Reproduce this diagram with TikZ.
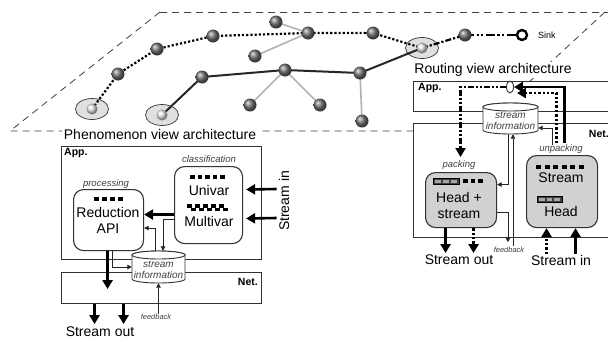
\documentclass[tikz,border=0pt]{standalone}
\usepackage{fontspec}
\setmainfont{Liberation Sans}
\usetikzlibrary{arrows.meta,shapes.geometric,calc}
\pgfdeclarelayer{bg}
\pgfsetlayers{bg,main}
\newcommand\dbcyl[5]{%
  \pgfmathsetmacro\cylcx{(#2+#4)/2}%
  \pgfmathsetmacro\cylrx{(#4-#2)/2}%
  \pgfmathsetmacro\cylcy{(#3+#5)/2}%
  \filldraw[cylst] (#2,#3+4) -- (#2,#5-4) arc[start angle=180,end angle=0,x radius=\cylrx,y radius=4] -- (#4,#3+4) arc[start angle=0,end angle=-180,x radius=\cylrx,y radius=4] -- cycle;
  \draw[cylst] (\cylcx,#3+4) ellipse[x radius=\cylrx,y radius=4];
  \node[inner sep=0pt, minimum width={(#4-#2)*1pt}, minimum height={(#5-#3)*1pt}] (#1) at (\cylcx,\cylcy) {};
  \node[cyltext] (#1txt) at (\cylcx,\cylcy+2.5) {stream\\information};
}
\begin{document}
\begin{tikzpicture}[x=1pt,y=-1pt,
 plane/.style={draw=black!75, line width=0.8pt, dash pattern=on 7pt off 5pt},
 sphere/.style={circle, inner sep=0pt, minimum size=13pt, ball color=black!55},
 lsphere/.style={circle, inner sep=0pt, minimum size=11pt, ball color=black!10},
 halo/.style={ellipse, fill=black!12, draw=black!80, line width=0.7pt, minimum width=33pt, minimum height=21pt, inner sep=0pt},
 sinkst/.style={circle, draw=black, line width=2.4pt, fill=white, minimum size=10pt, inner sep=0pt},
 dotroute/.style={line width=2.2pt, dash pattern=on 2.2pt off 2pt},
 mixroute/.style={line width=2.2pt, dash pattern=on 6pt off 2pt on 2.2pt off 2pt},
 solroute/.style={line width=2pt, black!85},
 greyroute/.style={line width=1.6pt, black!30},
 sinkroute/.style={line width=2.2pt, dash pattern=on 9pt off 2.5pt on 2.2pt off 2.5pt on 2.2pt off 2.5pt},
 frame/.style={draw=black!80, line width=1.1pt, fill=white, inner sep=0pt, anchor=north west},
 rbox/.style={frame, rounded corners=10pt},
 gbox/.style={rbox, fill=black!18},
 cylst/.style={draw=black!80, line width=0.9pt, fill=white},
 big/.style={font=\fontsize{14}{16}\selectfont, inner sep=0pt, align=center},
 title/.style={font=\fontsize{14}{16}\selectfont, inner sep=1.5pt, fill=white},
 tag/.style={font=\fontsize{9.5}{10}\selectfont\itshape, text=black!75, inner sep=0pt},
 boxtag/.style={font=\bfseries\fontsize{10.5}{11}\selectfont, inner sep=0pt},
 cyltext/.style={font=\fontsize{10}{11}\selectfont\itshape, text=black!75, align=center, inner sep=0pt},
 fb/.style={font=\fontsize{7.5}{8}\selectfont\itshape, text=black!75, inner sep=0pt},
 sinktxt/.style={font=\fontsize{9}{10}\selectfont, inner sep=0pt},
 fat/.style={line width=2.6pt, -{Triangle[length=9pt,width=10pt]}},
 fatdot/.style={fat, line width=2.4pt, dash pattern=on 2.4pt off 2pt},
 fatdd/.style={fat, line width=2.2pt, dash pattern=on 6pt off 2pt on 2pt off 2pt on 2pt off 2pt},
 thin/.style={line width=0.8pt, draw=black!85, -{Triangle[length=4.5pt,width=4.5pt]}},
]
\useasboundingbox (0,0) rectangle (608,341);

% plane
\begin{pgfonlayer}{bg}
\draw[plane] (160,12) -- (612,12);
\draw[plane] (605,12) -- (476,131);
\draw[plane] (160,12) -- (10,131) -- (476,131);
\node[halo] (h1) at (92,109) {};
\node[halo] (h2) at (162,115) {};
\node[halo] (h3) at (422,48) {};
\end{pgfonlayer}

% network nodes
\node[lsphere] (a1) at (92,109) {};
\node[sphere] (a2) at (118,74) {};
\node[sphere] (a3) at (157,49) {};
\node[sphere] (a4) at (213,36) {};
\node[lsphere] (b1) at (162,115) {};
\node[sphere] (b2) at (202,77) {};
\node[sphere] (b3) at (285,70) {};
\node[sphere] (c1) at (276,22) {};
\node[sphere] (c2) at (255,56) {};
\node[sphere] (d1) at (250,105) {};
\node[sphere] (e1) at (308,33) {};
\node[sphere] (e2) at (373,33) {};
\node[lsphere] (f) at (422,48) {};
\node[sphere] (g) at (465,35) {};
\node[sinkst] (s) at (522,35) {};
\node[sinktxt, anchor=west] (sinklbl) at (538,35) {Sink};
\node[sphere] (hh) at (360,73) {};
\node[sphere] (d2) at (320,105) {};
\node[sphere] (h4) at (362,121) {};

\begin{pgfonlayer}{bg}
\draw[greyroute] (c1.center) -- (e1.center);
\draw[greyroute] (c2.center) -- (e1.center);
\draw[greyroute] (b3.center) -- (d1.center);
\draw[greyroute] (b3.center) -- (d2.center);
\draw[greyroute] (hh.center) -- (h4.center);
\draw[dotroute] (a1.center) -- (a2.center) -- (a3.center) -- (a4.center) -- (e1.center) -- (e2.center) -- (f.center);
\draw[solroute] (b1.center) -- (b2.center) -- (b3.center) -- (hh.center) -- (f.center);
\draw[mixroute] (f.center) -- (g.center);
\draw[sinkroute] (g.center) -- (s);
\end{pgfonlayer}

% titles
\node[title] (tphen) at (160,134) {Phenomenon view architecture};
\node[title] (trout) at (493,70) {Routing view architecture};

% ===== Phenomenon view =====
\node[frame, minimum width=200pt, minimum height=113pt] (papp) at (61,146) {};
\node[frame, minimum width=200pt, minimum height=31pt] (pnet) at (61,272) {};
\node[boxtag, anchor=west] (papptag) at (64,153) {App.};
\node[boxtag, anchor=east] (pnettag) at (258,282) {Net.};

\node[rbox, minimum width=70pt, minimum height=61pt] (red) at (73,189) {};
\node[tag] (redtag) at (106,184) {processing};
\foreach \i in {0,...,3} \fill (94+\i*8,197) rectangle ++(4.8,4);
\node[big] (redtxt) at (108,220.5) {Reduction\\API};

\node[rbox, minimum width=68pt, minimum height=77pt] (cls) at (174,166) {};
\node[tag] (clstag) at (209,159) {classification};
\foreach \i in {0,...,4} \fill (190+\i*7.5,175) rectangle ++(4.6,4);
\node[big] (univar) at (209,190) {Univar};
\foreach \i in {0,...,4} \fill (187+\i*8,204) rectangle ++(4.5,3.6);
\foreach \i in {0,...,4} \fill (191+\i*8,207.5) rectangle ++(4.5,3.6);
\node[big] (multivar) at (209,221) {Multivar};

\dbcyl{pcyl}{132}{251}{185}{283}

\node[big, rotate=90] (pin) at (284,201) {Stream in};
\draw[fat, shorten >=3pt] ($(pin.north)+(-2,-12)$) -- ($(cls.east)+(0,-15.5)$);
\draw[fat, shorten >=3pt] ($(pin.north)+(-2,17)$) -- ($(cls.east)+(0,13.5)$);

\draw[fat] ($(cls.west)+(0,9.5)$) -- ($(red.east)+(0,-5.5)$);
\draw[thin] ($(cls.west)+(0,14.5)$) -| ($(pcyl.north)+(4.5,0)$);
\draw[thin] ($(pcyl.north)+(-3.5,0)$) |- ($(red.east)+(0,8)$);
\draw[fat] ($(red.south)+(-1,0)$) -- ++(0,38);
\draw[thin] ($(red.south)+(4,0)$) |- (pcyl.west);
\draw[fat] ($(pnet.south)+(-67,0)$) -- ++(0,20);
\draw[fat] ($(pnet.south)+(-38,0)$) -- ++(0,20);
\node[big] (pout) at (100,331.5) {Stream out};
\node[fb] (pfb) at (156,317) {feedback};
\draw[thin] (pfb.north -| pcyl.south) -- (pcyl.south);

% ===== Routing view =====
\node[frame, minimum width=207pt, minimum height=30pt] (rapp) at (413,81) {};
\node[frame, minimum width=207pt, minimum height=114pt] (rnet) at (413,123) {};
\node[boxtag, anchor=west] (rapptag) at (418,88) {App.};
\node[boxtag, anchor=east] (rnettag) at (609,134) {Net.};

\node[gbox, minimum width=71pt, minimum height=55pt] (pack) at (425,172) {};
\node[tag] (packtag) at (459,165) {packing};
\filldraw[fill=black!75, draw=black, line width=0.5pt] (433,178) rectangle (459,184);
\foreach \i in {0,...,2} \fill[black!35] (435+\i*8,179.5) rectangle ++(6,3);
\foreach \i in {0,...,2} \fill (463+\i*7.5,179) rectangle ++(4.6,4);
\node[big] (packtxt) at (459,205) {Head +\\stream};

\node[gbox, minimum width=71pt, minimum height=72pt] (unpack) at (526,155) {};
\node[tag] (unpacktag) at (561,149) {unpacking};
\foreach \i in {0,...,5} \fill (536+\i*8.6,165) rectangle ++(5,4);
\node[big] (ustream) at (561,178) {Stream};
\filldraw[fill=black!75, draw=black, line width=0.5pt] (537,196) rectangle (562,202);
\foreach \i in {0,...,2} \fill[black!35] (539+\i*7.7,197.5) rectangle ++(5.7,3);
\node[big] (uhead) at (561,211) {Head};

\dbcyl{rcyl}{483}{103}{538}{134}
\node[draw=black!80, line width=0.9pt, fill=white, ellipse, minimum width=7pt, minimum height=12pt, inner sep=0pt] (jn) at (510,87) {};

\draw[fatdd] (jn.west) -| ($(pack.north)+(-0.5,-15)$);
\draw[fat] ($(unpack.north)+(2.5,-12)$) |- (jn.east);
\draw[fatdot] ($(unpack.north)+(-5.5,-12)$) |- ($(jn.east)+(3,6)$);
\draw[thin] ($(unpack.north)+(-9.5,-10)$) |- ($(rcyl.east)+(0,9.5)$);
\draw[thin] ($(rcyl.south)+(-2.5,0)$) |- ($(pack.east)+(0,-15.5)$);
\draw[thin] ($(pack.east)+(0,12.5)$) -| ($(rcyl.south)+(-2.5,108)$);
\node[fb] (rfb) at (509,250) {feedback};
\draw[thin] ($(rfb.north)+(4,-1)$) -- ($(rcyl.south)+(2.5,0)$);

\draw[fat] ($(pack.south)+(-15.5,0)$) -- ++(0,25);
\draw[fatdot] ($(pack.south)+(12.5,0)$) -- ++(0,25);
\draw[fatdot] ($(unpack.south)+(-15.5,26)$) -- ++(0,-26);
\draw[fat] ($(unpack.south)+(13.5,26)$) -- ++(0,-26);
\node[big] (rout) at (459,260) {Stream out};
\node[big] (rin) at (561,260) {Stream in};
\end{tikzpicture}
\end{document}
